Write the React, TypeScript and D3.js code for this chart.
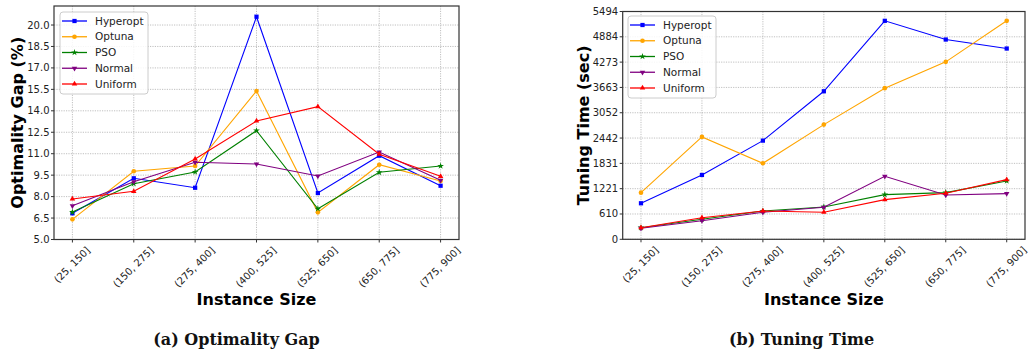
import React from "react";
import * as d3 from "d3";

// instance size buckets
const categories = ["(25, 150]", "(150, 275]", "(275, 400]", "(400, 525]", "(525, 650]", "(650, 775]", "(775, 900]"];
const methods = ["Hyperopt", "Optuna", "PSO", "Normal", "Uniform"];
const colors = ["#0000ff", "#ffa500", "#008000", "#800080", "#ff0000"];
const markers = ["square", "circle", "star", "down", "up"];

// optimality gap (%)
const gapHyperopt = [6.83, 9.28, 8.62, 20.58, 8.25, 10.86, 8.76];
const gapOptuna = [6.41, 9.77, 10.14, 15.38, 6.9, 10.23, 9.09];
const gapPSO = [6.92, 8.9, 9.72, 12.61, 7.15, 9.7, 10.14];
const gapNormal = [7.36, 9.04, 10.4, 10.28, 9.44, 11.12, 9.14];
const gapUniform = [7.83, 8.37, 10.63, 13.29, 14.29, 10.96, 9.42];
const gapTicks = d3.range(5, 20.01, 1.5);

// tuning time (sec)
const timeHyperopt = [869, 1552, 2380, 3570, 5269, 4818, 4601];
const timeOptuna = [1125, 2469, 1834, 2766, 3645, 4280, 5269];
const timePSO = [280, 483, 683, 780, 1077, 1125, 1407];
const timeNormal = [266, 449, 652, 772, 1521, 1069, 1101];
const timeUniform = [280, 521, 683, 652, 956, 1110, 1439];
const timeMax = 5494;
const timeTicks = d3.range(10).map(i => (timeMax * i) / 9);

interface Panel {
  left: number; right: number; top: number; bottom: number;
  domain: [number, number];
  ticks: number[];
  fmt: (v: number) => string;
  yLabel: string;
  yLabelX: number;
  caption: string;
  captionX: number;
  series: number[][];
  legend: { x: number; y: number };
}

const symbolFor = (m: string) => {
  if (m === "square") return d3.symbol(d3.symbolSquare, 18);
  if (m === "circle") return d3.symbol(d3.symbolCircle, 17);
  if (m === "star") return d3.symbol(d3.symbolStar, 14);
  return d3.symbol(d3.symbolTriangle, 13);
};

function drawPanel(svg: d3.Selection<SVGSVGElement, unknown, null, undefined>, p: Panel) {
  const x = d3.scalePoint<string>().domain(categories).range([p.left, p.right]).padding(0.3);
  const y = d3.scaleLinear().domain(p.domain).range([p.bottom, p.top]);
  const g = svg.append("g");

  // grid
  g.append("g").selectAll("line").data(p.ticks).join("line")
    .attr("x1", p.left).attr("x2", p.right)
    .attr("y1", d => y(d)).attr("y2", d => y(d))
    .attr("stroke", "#b0b0b0").attr("stroke-width", 0.8).attr("stroke-dasharray", "1.2,1.2");
  g.append("g").selectAll("line").data(categories).join("line")
    .attr("x1", d => x(d)!).attr("x2", d => x(d)!)
    .attr("y1", p.top).attr("y2", p.bottom)
    .attr("stroke", "#b0b0b0").attr("stroke-width", 0.8).attr("stroke-dasharray", "1.2,1.2");

  // series
  const line = d3.line<number>().x((_, i) => x(categories[i])!).y(d => y(d));
  p.series.forEach((vals, si) => {
    g.append("path").datum(vals).attr("d", line)
      .attr("fill", "none").attr("stroke", colors[si]).attr("stroke-width", 1.1);
    const rot = markers[si] === "down" ? " rotate(180)" : "";
    g.append("g").selectAll("path").data(vals).join("path")
      .attr("d", symbolFor(markers[si])()!)
      .attr("transform", (d, i) => `translate(${x(categories[i])},${y(d)})${rot}`)
      .attr("fill", colors[si]);
  });

  // frame
  g.append("rect").attr("x", p.left).attr("y", p.top)
    .attr("width", p.right - p.left).attr("height", p.bottom - p.top)
    .attr("fill", "none").attr("stroke", "#333").attr("stroke-width", 1.2);

  // y ticks
  const yt = g.append("g").selectAll("g").data(p.ticks).join("g")
    .attr("transform", d => `translate(0,${y(d)})`);
  yt.append("line").attr("x1", p.left - 3).attr("x2", p.left).attr("stroke", "#333");
  yt.append("text").attr("x", p.left - 4.5).attr("dy", "0.35em")
    .attr("text-anchor", "end").attr("font-size", 10).attr("fill", "#222")
    .text(d => p.fmt(d));

  // x ticks
  const xt = g.append("g").selectAll("g").data(categories).join("g");
  xt.append("line").attr("x1", d => x(d)!).attr("x2", d => x(d)!)
    .attr("y1", p.bottom).attr("y2", p.bottom + 3).attr("stroke", "#333");
  xt.append("text")
    .attr("text-anchor", "middle").attr("dy", "0.35em")
    .attr("font-size", 10).attr("fill", "#222")
    .text(d => d)
    .each(function (d) {
      const el = this as SVGTextElement;
      const len = el.getComputedTextLength();
      const half = (len + 10) / (2 * Math.SQRT2);
      el.setAttribute("transform", `translate(${x(d)! - 0.5},${p.bottom + 5.5 + half}) rotate(-45)`);
    });

  // axis labels
  g.append("text").attr("x", (p.left + p.right) / 2).attr("y", 305)
    .attr("text-anchor", "middle").attr("font-size", 16).attr("font-weight", "bold")
    .text("Instance Size");
  g.append("text")
    .attr("transform", `translate(${p.yLabelX},${(p.top + p.bottom) / 2}) rotate(-90)`)
    .attr("text-anchor", "middle").attr("dy", "0.35em")
    .attr("font-size", 16).attr("font-weight", "bold")
    .text(p.yLabel);

  // caption
  g.append("text").attr("x", p.captionX).attr("y", 345)
    .attr("text-anchor", "middle").attr("font-family", "'DejaVu Serif', serif")
    .attr("font-size", 16).attr("font-weight", "bold").attr("fill", "#111")
    .text(p.caption);

  // legend
  const lg = g.append("g").attr("transform", `translate(${p.legend.x},${p.legend.y})`);
  lg.append("rect").attr("width", 88).attr("height", 82).attr("rx", 3)
    .attr("fill", "white").attr("fill-opacity", 0.85).attr("stroke", "#ccc");
  methods.forEach((m, i) => {
    const cy = 9 + i * 15.75;
    lg.append("line").attr("x1", 2).attr("x2", 27).attr("y1", cy).attr("y2", cy)
      .attr("stroke", colors[i]).attr("stroke-width", 1.3);
    lg.append("path").attr("d", symbolFor(markers[i])()!)
      .attr("transform", `translate(14.5,${cy})${markers[i] === "down" ? " rotate(180)" : ""}`)
      .attr("fill", colors[i]);
    lg.append("text").attr("x", 35).attr("y", cy).attr("dy", "0.35em")
      .attr("font-size", 10.5).attr("fill", "#222").text(m);
  });
}

export default function App() {
  const svgRef = React.useRef<SVGSVGElement>(null);
  React.useEffect(() => {
    document.body.style.margin = "0";
    const svg = d3.select(svgRef.current!);
    svg.selectAll("*").remove();
    drawPanel(svg, {
      left: 54, right: 459, top: 6, bottom: 239.5,
      domain: [5, 21.33], ticks: gapTicks, fmt: d3.format(".1f"),
      yLabel: "Optimality Gap (%)", yLabelX: 17.5,
      caption: "(a) Optimality Gap", captionX: 236.5,
      series: [gapHyperopt, gapOptuna, gapPSO, gapNormal, gapUniform],
      legend: { x: 60, y: 12 },
    });
    drawPanel(svg, {
      left: 622.7, right: 1025, top: 11.5, bottom: 239.3,
      domain: [0, timeMax], ticks: timeTicks, fmt: v => String(Math.round(v)),
      yLabel: "Tuning Time (sec)", yLabelX: 583,
      caption: "(b) Tuning Time", captionX: 801.5,
      series: [timeHyperopt, timeOptuna, timePSO, timeNormal, timeUniform],
      legend: { x: 628, y: 16 },
    });
  }, []);
  return (
    <svg ref={svgRef} width={1028} height={356}
      style={{ display: "block", fontFamily: "'DejaVu Sans', sans-serif", background: "white" }} />
  );
}
